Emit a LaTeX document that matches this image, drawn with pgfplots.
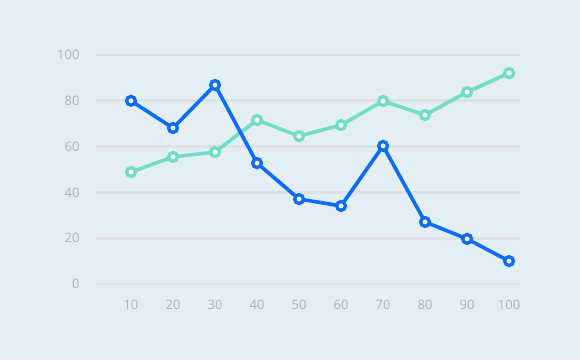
\documentclass[border=0pt]{standalone}
\usepackage{pgfplots}
\pgfplotsset{compat=1.18}
\usepackage{fontspec}
\setmainfont{Open Sans}
\definecolor{bg}{HTML}{E4EEF5}
\definecolor{gridc}{HTML}{DFE2E4}
\definecolor{ticktxt}{HTML}{ADB2B7}
\definecolor{blueA}{HTML}{0A6CF8}
\definecolor{tealA}{HTML}{72DCCB}
\begin{document}
\begin{tikzpicture}[x=1pt,y=1pt]
\fill[bg] (0,0) rectangle (580,360);
\begin{axis}[
  at={(96pt,76pt)}, anchor=south west,
  scale only axis, width=424pt, height=229pt,
  xmin=1.67, xmax=102.6, ymin=0, ymax=100,
  axis lines=none,
  clip=false,
  xtick={10,20,...,100}, ytick={0,20,...,100},
  /pgf/number format/assume math mode=true,
  tick label style={font=\fontsize{13}{15}\selectfont, text=ticktxt},
]
% grid lines
\foreach \yy in {0,20,40,60,80,100}{
  \edef\tmp{\noexpand\draw[gridc, line width=2.8pt] (axis cs:1.67,\yy) -- (axis cs:102.6,\yy);}
  \tmp
}
\foreach \yy in {0,20,40,60,80,100}{
  \edef\tmp{\noexpand\node[anchor=east, font=\noexpand\fontsize{13}{15}\noexpand\selectfont, text=ticktxt] at ([xshift=-13pt]axis cs:1.67,\yy) {\yy};}
  \tmp
}
\foreach \xx in {10,20,...,100}{
  \edef\tmp{\noexpand\node[font=\noexpand\fontsize{13}{15}\noexpand\selectfont, text=ticktxt] at ([yshift=-21pt]axis cs:\xx,0) {\xx};}
  \tmp
}
\addplot[tealA, line width=3.6pt, mark=*, mark size=4.4pt, mark options={fill=white, draw=tealA, line width=3.3pt}]
 coordinates {(10,48.9)(20,55.5)(30,57.6)(40,71.6)(50,64.6)(60,69.4)(70,79.9)(80,73.8)(90,83.8)(100,92.1)};
\addplot[blueA, line width=3.6pt, mark=*, mark size=4.4pt, mark options={fill=white, draw=blueA, line width=3.3pt}]
 coordinates {(10,80)(20,68.1)(30,86.9)(40,52.8)(50,37.1)(60,34.1)(70,60.3)(80,27.1)(90,19.7)(100,10)};
\end{axis}
\end{tikzpicture}
\end{document}
